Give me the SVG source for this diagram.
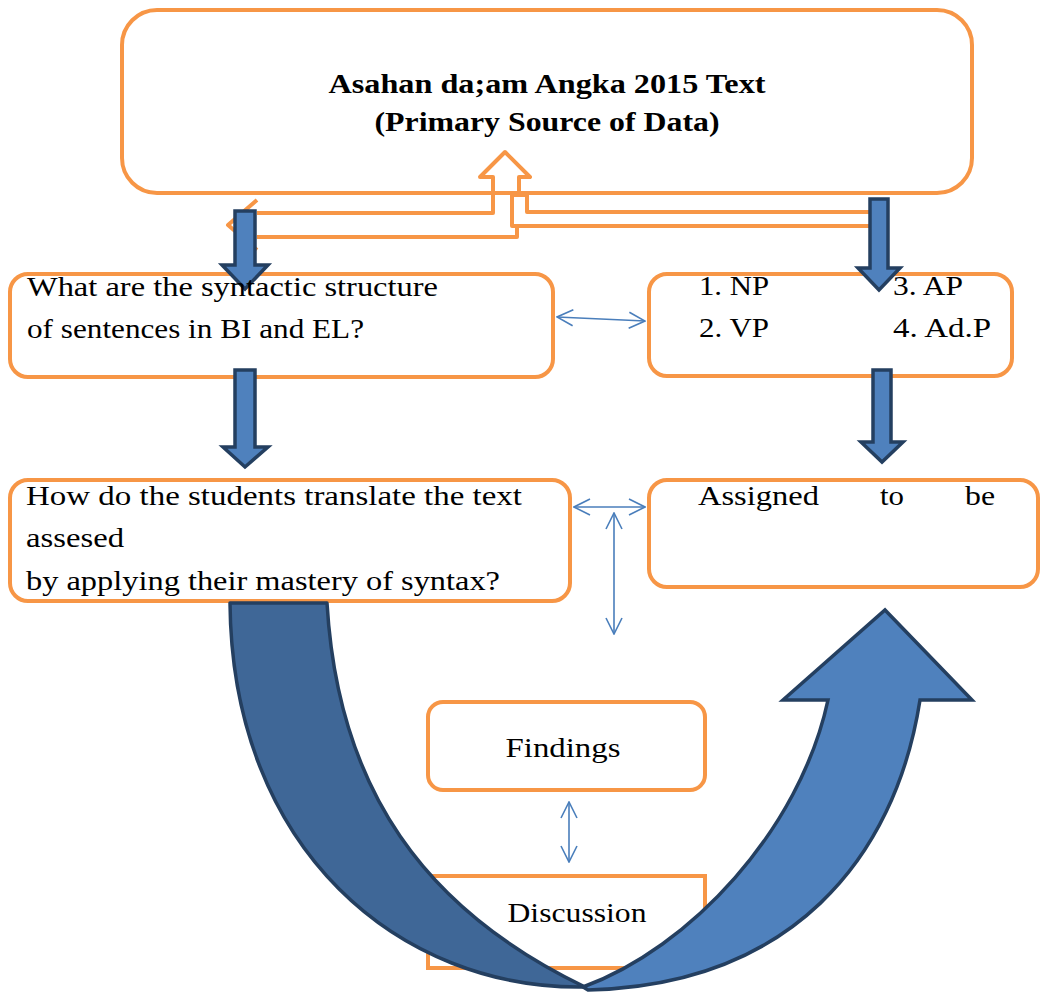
<svg xmlns="http://www.w3.org/2000/svg" width="1040" height="992" viewBox="0 0 1040 992">
<defs>
<style>
.box{fill:#fff;stroke:#F79646;stroke-width:4}
.t{font-family:"Liberation Serif","Times New Roman",serif;font-size:28px;fill:#000}
.tb{font-family:"Liberation Serif","Times New Roman",serif;font-size:27px;font-weight:bold;fill:#000}
.thin{stroke:#4A7EBB;stroke-width:1.6;fill:none;marker-start:url(#ah);marker-end:url(#ah)}
.blk{fill:#4F81BD;stroke:#243F60;stroke-width:3.5;stroke-linejoin:miter}
.orn{fill:none;stroke:#F79646;stroke-width:4;stroke-linejoin:round}
</style>
<marker id="ah" viewBox="0 0 18 18" refX="17" refY="9" markerWidth="18" markerHeight="18" markerUnits="userSpaceOnUse" orient="auto-start-reverse">
<path d="M1,1 L17,9 L1,17" fill="none" stroke="#4A7EBB" stroke-width="1.6"/>
</marker>
</defs>
<rect width="1040" height="992" fill="#fff"/>

<g id="top">
<rect class="box" x="122" y="10" width="850" height="183" rx="35"/>
<text class="tb" x="547" y="93" text-anchor="middle" textLength="437" lengthAdjust="spacingAndGlyphs">Asahan da;am Angka 2015 Text</text>
<text class="tb" x="547" y="131" text-anchor="middle" textLength="345" lengthAdjust="spacingAndGlyphs">(Primary Source of Data)</text>
</g>

<g id="q1">
<rect class="box" x="10" y="274" width="543" height="103" rx="18"/>
</g>
<g id="phrases">
<rect class="box" x="649" y="274" width="363" height="102" rx="18"/>
</g>
<g id="q2">
<rect class="box" x="10" y="480" width="560" height="121" rx="18"/>
</g>
<g id="assigned">
<rect class="box" x="649" y="480" width="389" height="107" rx="18"/>
</g>
<g id="findings">
<rect class="box" x="428" y="702" width="277" height="88" rx="15"/>
<text class="t" x="563" y="757" text-anchor="middle" textLength="115" lengthAdjust="spacingAndGlyphs">Findings</text>
</g>
<g id="discussion">
<rect class="box" x="428" y="876" width="277" height="92"/>
<text class="t" x="577" y="922" text-anchor="middle" textLength="139" lengthAdjust="spacingAndGlyphs">Discussion</text>
</g>

<g id="connectors">
<path class="orn" d="M257,213 L493,213 L493,177 L480,177 L505,152 L530,177 L519,177 L519,195"/>
<path class="orn" d="M870,212 L527,212 L527,195 L512,195 L512,226 L870,226"/>
<path class="orn" d="M517,226 L517,237 L257,237"/>
<path class="orn" d="M257,200 L228,225 L257,250"/>
<line class="thin" x1="557" y1="317" x2="645" y2="321"/>
<line class="thin" x1="574" y1="507" x2="645" y2="507"/>
<line class="thin" x1="614" y1="513" x2="614" y2="634"/>
<line class="thin" x1="569" y1="802" x2="569" y2="862"/>
<polygon class="blk" points="235,211 255,211 255,265 268,265 245,289 222,265 235,265"/>
<polygon class="blk" points="870,199 888,199 888,268 900,268 879,290 858,268 870,268"/>
<polygon class="blk" points="235,370 255,370 255,447 268,447 245,467 223,447 235,447"/>
<polygon class="blk" points="873,370 891,370 891,442 903,442 882,462 861,442 873,442"/>
<path d="M230,603 L327,603 C338,790 425,910 585,987 C400,990 232,850 230,603 Z" fill="#3F6797" stroke="#243F60" stroke-width="3.5" stroke-linejoin="round"/>
<path d="M583,987 C690,948 800,830 828,700 L783,700 L885,610 L972,700 L920,700 C895,860 790,985 588,990 Z" fill="#4F81BD" stroke="#243F60" stroke-width="3.5" stroke-linejoin="miter"/>
</g>

<g id="labels">
<text class="t" x="27" y="296" textLength="411" lengthAdjust="spacingAndGlyphs">What are the syntactic structure</text>
<text class="t" x="27" y="338" textLength="337" lengthAdjust="spacingAndGlyphs">of sentences in BI and EL?</text>
<text class="t" x="699" y="295" textLength="70" lengthAdjust="spacingAndGlyphs">1. NP</text>
<text class="t" x="893" y="295" textLength="70" lengthAdjust="spacingAndGlyphs">3. AP</text>
<text class="t" x="699" y="337" textLength="70" lengthAdjust="spacingAndGlyphs">2. VP</text>
<text class="t" x="893" y="337" textLength="98" lengthAdjust="spacingAndGlyphs">4. Ad.P</text>
<text class="t" x="26" y="505" textLength="496" lengthAdjust="spacingAndGlyphs">How do the students translate the text</text>
<text class="t" x="26" y="547" textLength="98" lengthAdjust="spacingAndGlyphs">assesed</text>
<text class="t" x="26" y="590" textLength="474" lengthAdjust="spacingAndGlyphs">by applying their mastery of syntax?</text>
<text class="t" x="698" y="505" textLength="121" lengthAdjust="spacingAndGlyphs">Assigned</text>
<text class="t" x="880" y="505" textLength="24" lengthAdjust="spacingAndGlyphs">to</text>
<text class="t" x="965" y="505" textLength="30" lengthAdjust="spacingAndGlyphs">be</text>
</g>
</svg>
